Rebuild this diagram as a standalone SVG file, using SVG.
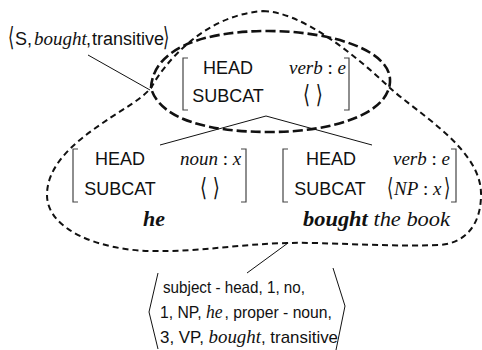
<svg xmlns="http://www.w3.org/2000/svg" width="482" height="350" viewBox="0 0 482 350">
<style>
.sf{font-family:"Liberation Sans",Arial,sans-serif;font-size:18px;fill:#111}
.sm{font-family:"Liberation Sans",Arial,sans-serif;font-size:17px;fill:#111}
.mi{font-family:"Liberation Serif","Times New Roman",serif;font-style:italic;font-size:19px;fill:#111}
.up{font-style:normal}
.ang{font-family:"DejaVu Sans",sans-serif;font-size:18px;fill:#111}
.bi{font-family:"Liberation Serif","Times New Roman",serif;font-style:italic;font-weight:bold;font-size:22px;fill:#111}
.ni{font-weight:normal}
.br{fill:none;stroke:#444;stroke-width:1.2}
.conn{fill:none;stroke:#111;stroke-width:1}
.blob{fill:none;stroke:#111;stroke-width:2;stroke-dasharray:6 4}
.ell{fill:none;stroke:#111;stroke-width:2.6;stroke-dasharray:10 4}
</style>
<rect width="482" height="350" fill="#fff"/>

<!-- dashed regions -->
<g id="regions">
  <path class="blob" d="M263,11 C300,12 350,50 390,88 C420,115 482,150 481,195 C481,225 465,243 440,245 C380,247 330,242 287,243 C240,244 200,252 150,251 C100,250 47,230 47,195 C47,160 85,135 110,118 C125,108 140,100 151,88 C165,62 205,15 263,11 Z"/>
  <path class="ell" d="M151,88 C153,50 200,31 268,31 C330,31 392,50 390,82 C388,115 330,132 270,132 C210,132 160,120 151,88 Z"/>
</g>

<!-- connectors -->
<g id="connectors">
  <line class="conn" x1="88" y1="55" x2="150" y2="90"/>
  <polyline class="conn" points="160,145 266,116 372,145"/>
  <line class="conn" x1="288" y1="243" x2="247" y2="273"/>
</g>

<!-- top label -->
<g id="label-s">
  <text class="ang" transform="translate(8,46) scale(0.9,1.45)">⟨</text>
  <text class="sf" y="45"><tspan x="15">S,</tspan><tspan class="mi" font-size="16" x="34">bought</tspan><tspan x="86">,</tspan><tspan x="92">transitive</tspan></text>
  <text class="ang" transform="translate(163,46) scale(0.9,1.45)">⟩</text>
</g>

<!-- mother feature structure -->
<g id="fs-top">
  <path class="br" d="M188,58 H183 V110 H188"/>
  <path class="br" d="M344,58 H349 V110 H344"/>
  <text class="sf" x="228" y="74" text-anchor="middle">HEAD</text>
  <text class="sf" x="228" y="102" text-anchor="middle">SUBCAT</text>
  <text class="mi" x="289" y="74">verb<tspan class="up"> : </tspan>e</text>
  <text class="ang" text-anchor="middle" transform="translate(313,103) scale(1,1.4)">⟨ ⟩</text>
</g>

<!-- subject daughter -->
<g id="fs-he">
  <path class="br" d="M78,149 H73 V202 H78"/>
  <path class="br" d="M241,149 H246 V202 H241"/>
  <text class="sf" x="120" y="165" text-anchor="middle">HEAD</text>
  <text class="sf" x="120" y="195" text-anchor="middle">SUBCAT</text>
  <text class="mi" x="180" y="165">noun<tspan class="up"> : </tspan>x</text>
  <text class="ang" text-anchor="middle" transform="translate(210,196) scale(1,1.4)">⟨ ⟩</text>
  <text class="bi" x="143" y="226">he</text>
</g>

<!-- head daughter -->
<g id="fs-bought">
  <path class="br" d="M288,149 H283 V202 H288"/>
  <path class="br" d="M451,149 H456 V202 H451"/>
  <text class="sf" x="331" y="165" text-anchor="middle">HEAD</text>
  <text class="sf" x="330" y="195" text-anchor="middle">SUBCAT</text>
  <text class="mi" x="393" y="165">verb<tspan class="up"> : </tspan>e</text>
  <text class="ang" transform="translate(387,196) scale(0.9,1.4)">⟨</text>
  <text class="mi" x="394" y="195">NP<tspan class="up"> : </tspan>x</text>
  <text class="ang" transform="translate(444,196) scale(0.9,1.4)">⟩</text>
  <text class="bi" x="303" y="226" textLength="147" lengthAdjust="spacingAndGlyphs">bought<tspan class="ni"> the book</tspan></text>
</g>

<!-- rule tuple -->
<g id="tuple">
  <polyline class="conn" points="158,273 149,312 158,349"/>
  <polyline class="conn" points="333,268 345,306 336,350"/>
  <text class="sm" x="163" y="293" textLength="142" lengthAdjust="spacingAndGlyphs">subject - head, 1, no,</text>
  <text class="sm" x="160" y="318" textLength="172" lengthAdjust="spacingAndGlyphs">1, NP, <tspan class="mi" font-size="17">he</tspan><tspan dx="2">, proper - noun,</tspan></text>
  <text class="sm" x="160" y="343" textLength="178" lengthAdjust="spacingAndGlyphs">3, VP, <tspan class="mi" font-size="17">bought</tspan>, transitive</text>
</g>
</svg>
